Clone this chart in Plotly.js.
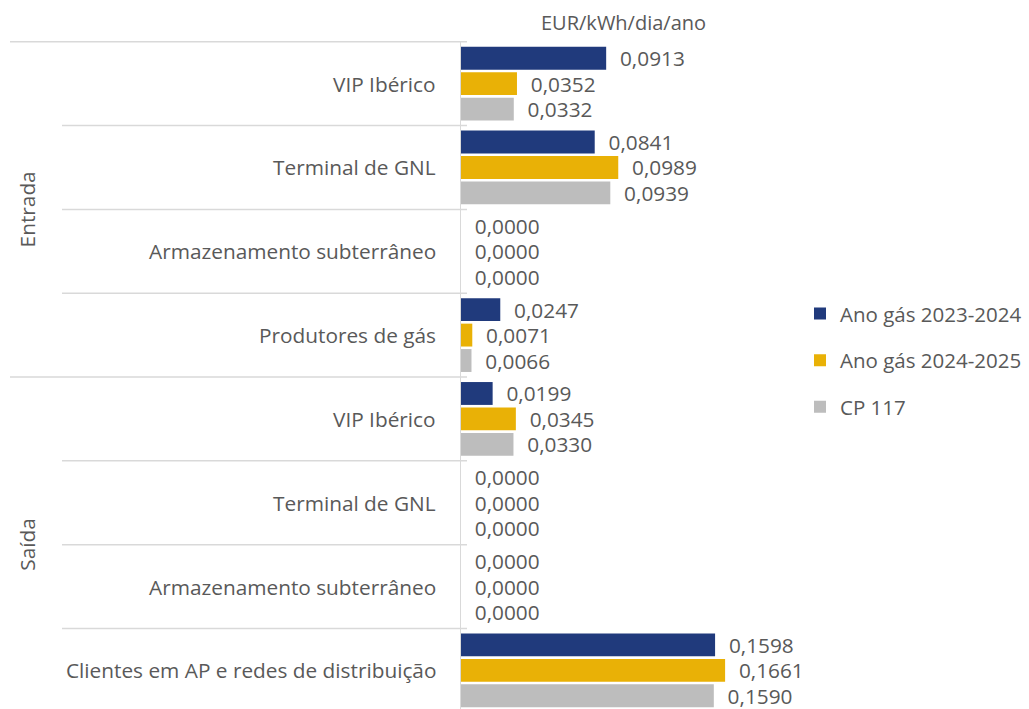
<!DOCTYPE html>
<html><head><meta charset="utf-8">
<script src="https://cdn.plot.ly/plotly-3.0.1.min.js"></script>
<style>html,body{margin:0;padding:0;overflow:hidden;background:#fff}#chart{width:1029px;height:720px}</style>
</head><body><div id="chart"></div>
<script>
// Data
const groups = ["Entrada","Entrada","Entrada","Entrada","Saída","Saída","Saída","Saída"];
const categories = ["VIP Ibérico","Terminal de GNL","Armazenamento subterrâneo","Produtores de gás",
                    "VIP Ibérico","Terminal de GNL","Armazenamento subterrâneo","Clientes em AP e redes de distribuição"];
const series1Name = "Ano gás 2023-2024";
const series2Name = "Ano gás 2024-2025";
const series3Name = "CP 117";
const series1 = [0.0913,0.0841,0.0000,0.0247,0.0199,0.0000,0.0000,0.1598];
const series2 = [0.0352,0.0989,0.0000,0.0071,0.0345,0.0000,0.0000,0.1661];
const series3 = [0.0332,0.0939,0.0000,0.0066,0.0330,0.0000,0.0000,0.1590];
const unitLabel = "EUR/kWh/dia/ano";

const ids = categories.map((c,i)=>groups[i]+"|"+c);
const txtColor = "#595959";
const font = "Open Sans, sans-serif";
const fs = 20.8;
const pad = "\u00a0\u00a0";

function mk(name, vals, color){
  return {type:"bar", orientation:"h", name:name, x:vals, y:ids,
    marker:{color:color}, legendgroup:name,
    text: vals.map(v=>pad+v.toFixed(4).replace(".",",")), textposition:"outside",
    textfont:{size:fs,color:txtColor,family:font}, constraintext:"none", cliponaxis:false,
    hoverinfo:"x+y"};
}
const data = [mk(series1Name,series1,"#203A7C"), mk(series2Name,series2,"#E9B106"), mk(series3Name,series3,"#BDBDBD")];

const L=461, R=1029-779, W=318;
const px = p => (p-L)/W;
const shapes=[];
const lc="#D9D9D9";
for(let i=0;i<=ids.length;i++){
  const outer = (i===0||i===ids.length||groups[i]!==groups[i-1]);
  shapes.push({type:"line",xref:"paper",yref:"y",x0:px(outer?10:62),x1:px(467),y0:i-0.5,y1:i-0.5,line:{color:lc,width:1.5}});
}
const annotations=[{xref:"paper",yref:"paper",x:px(623),y:1.028,text:unitLabel,showarrow:false,
  font:{size:20,color:txtColor,family:font},xanchor:"center",yanchor:"middle"}];
// category labels
categories.forEach((c,i)=>annotations.push({xref:"paper",yref:"y",x:px(438),y:ids[i],text:c,showarrow:false,
  xanchor:"right",yanchor:"middle",font:{size:fs,color:txtColor,family:font}}));
// group labels
const uniq=[...new Set(groups)];
uniq.forEach(g=>{
  const idx=groups.map((x,i)=>x===g?i:-1).filter(i=>i>=0);
  const mid=(idx[0]+idx[idx.length-1])/2;
  annotations.push({xref:"paper",yref:"y",x:px(27),y:mid,text:g,textangle:-90,showarrow:false,
    xanchor:"center",yanchor:"middle",font:{size:fs,color:txtColor,family:font}});
});

const layout={width:1029,height:720,margin:{l:L,r:R,t:41,b:7,autoexpand:false},
  paper_bgcolor:"#fff",plot_bgcolor:"#fff",barmode:"group",bargap:0.09,bargroupgap:0.1,
  separators:",.",
  xaxis:{range:[0,0.2],showgrid:false,zeroline:false,showticklabels:false,ticks:"",fixedrange:true},
  yaxis:{autorange:"reversed",type:"category",showticklabels:false,ticks:"",showgrid:false,
    showline:true,linecolor:lc,linewidth:1.5,zeroline:false},
  legend:{x:px(800),xanchor:"left",y:0.525,yanchor:"middle",traceorder:"grouped",tracegroupgap:17,
    font:{size:20.5,color:txtColor,family:font},bgcolor:"rgba(0,0,0,0)",itemwidth:30},
  shapes:shapes,annotations:annotations,showlegend:true,font:{family:font,color:txtColor}};
Plotly.newPlot("chart",data,layout,{displayModeBar:false,staticPlot:true});
</script></body></html>
